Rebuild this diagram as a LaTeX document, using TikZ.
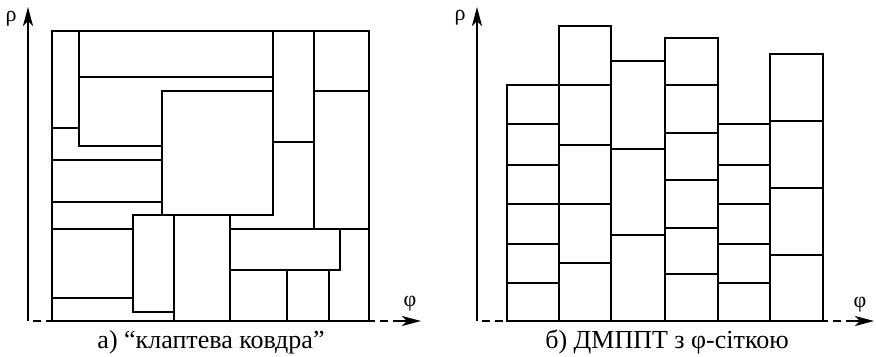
\documentclass[tikz,border=0pt]{standalone}
\usepackage{fontspec}
\setmainfont{Liberation Serif}
\usetikzlibrary{arrows.meta}
\begin{document}
\begin{tikzpicture}[x=1bp, y=-1bp,
  box/.style={line width=1.7bp},
  axis/.style={line width=2bp},
  dashaxis/.style={line width=2bp, dash pattern=on 8bp off 5bp, dash phase=8bp},
  axisarrow/.style={line width=2bp, -{Stealth[length=19bp, width=10bp, inset=5bp]}},
  lbl/.style={font=\fontsize{22bp}{24bp}\selectfont, inner sep=0pt},
  figcaption/.style={font=\fontsize{26bp}{30bp}\selectfont, inner sep=0pt, anchor=base}]
\useasboundingbox (0,0) rectangle (876,356);

\coordinate (oA) at (28,321);
\coordinate (ytipA) at (28,7);
\coordinate (fblA) at (52,321);
\coordinate (fbrA) at (369,321);
\coordinate (xdA) at (393,321);
\coordinate (xtipA) at (421,321);
\draw[axisarrow] (oA) -- (ytipA);
\draw[dashaxis] (oA) -- (fblA);
\draw[dashaxis] (xdA) -- (fbrA);
\draw[axisarrow] (xdA) -- (xtipA);
\node (rhoA) [lbl] at (11,19) {ρ};
\node (phiA) [lbl] at (410,304) {φ};

\draw[box] (52,31) rectangle (369,321);
\draw[box] (79,31) -- (79,146) -- (162,146);
\draw[box] (52,128) -- (79,128);
\draw[box] (79,77) -- (273,77);
\draw[box] (273,31) -- (273,91);
\draw[box] (162,91) rectangle (273,215);
\draw[box] (314,31) -- (314,229);
\draw[box] (314,91) -- (369,91);
\draw[box] (273,142) -- (314,142);
\draw[box] (52,160) -- (162,160);
\draw[box] (52,202) -- (162,202);
\draw[box] (52,229) -- (133,229);
\draw[box] (340,229) -- (369,229);
\draw[box] (133,215) rectangle (174,312);
\draw[box] (174,215) rectangle (230,321);
\draw[box] (230,229) rectangle (340,270);
\draw[box] (287,270) -- (287,321);
\draw[box] (329,270) -- (329,321);
\draw[box] (52,298) -- (133,298);

\node (capA) [figcaption] at (211,348) {а) “клаптева ковдра”};

\coordinate (oB) at (477,321);
\coordinate (ytipB) at (477,7);
\coordinate (fblB) at (507,321);
\coordinate (fbrB) at (823,321);
\coordinate (xdB) at (846,321);
\coordinate (xtipB) at (874,321);
\draw[axisarrow] (oB) -- (ytipB);
\draw[dashaxis] (oB) -- (fblB);
\draw[dashaxis] (xdB) -- (fbrB);
\draw[axisarrow] (xdB) -- (xtipB);
\node (rhoB) [lbl] at (460,18) {ρ};
\node (phiB) [lbl] at (860,305) {φ};

\draw[box] (507,321) rectangle (559,85) (507,124) -- (559,124) (507,165) -- (559,165)
  (507,204) -- (559,204) (507,244) -- (559,244) (507,283) -- (559,283);
\draw[box] (559,321) rectangle (611,26) (559,85) -- (611,85) (559,145) -- (611,145)
  (559,204) -- (611,204) (559,263) -- (611,263);
\draw[box] (611,321) rectangle (665,61) (611,149) -- (665,149) (611,235) -- (665,235);
\draw[box] (665,321) rectangle (718,38) (665,85) -- (718,85) (665,133) -- (718,133)
  (665,180) -- (718,180) (665,228) -- (718,228) (665,274) -- (718,274);
\draw[box] (718,321) rectangle (770,124) (718,165) -- (770,165) (718,204) -- (770,204)
  (718,244) -- (770,244) (718,283) -- (770,283);
\draw[box] (770,321) rectangle (823,54) (770,121) -- (823,121) (770,188) -- (823,188)
  (770,255) -- (823,255);

\node (capB) [figcaption] at (667,348) {б) ДМППТ з φ-сіткою};
\end{tikzpicture}
\end{document}
